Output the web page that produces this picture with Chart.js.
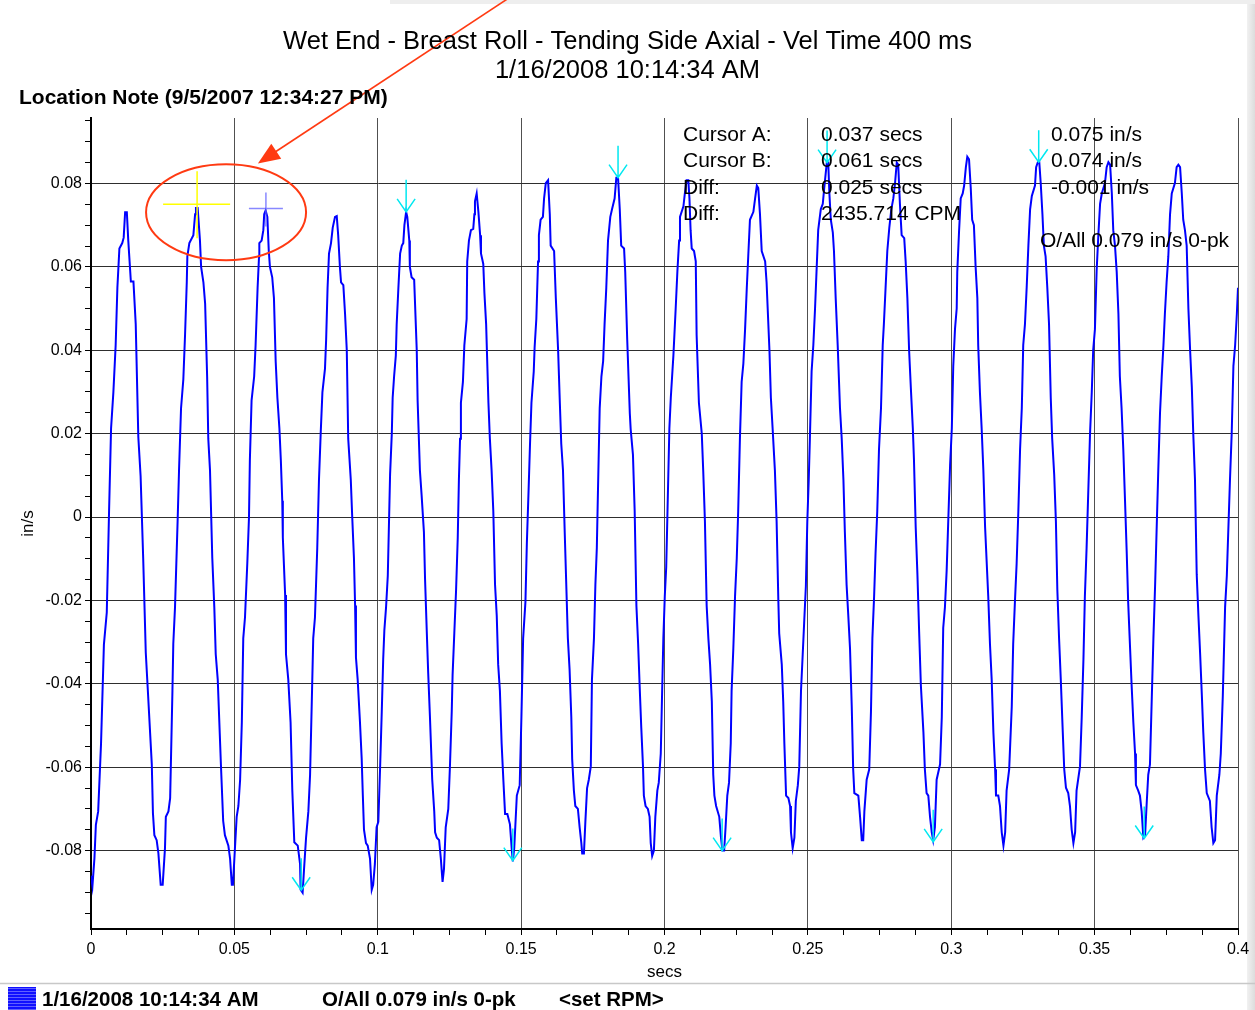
<!DOCTYPE html>
<html>
<head>
<meta charset="utf-8">
<title>Wet End - Breast Roll - Tending Side Axial - Vel Time 400 ms</title>
<script src="https://cdn.jsdelivr.net/npm/chart.js@4.4.1/dist/chart.umd.min.js"></script>
<style>
  html, body { margin: 0; padding: 0; background: #fff; }
  canvas { display: block; }
</style>
</head>
<body>
<canvas id="waveChart" width="1255" height="1010"></canvas>
<script>
// time waveform, [secs, in/s]
const wave = [
  [0,-0.0860],[0.0005,-0.0885],[0.0012,-0.0818],[0.0017,-0.0738],[0.0025,-0.0706],[0.0035,-0.0543],[0.0045,-0.0306],[0.0055,-0.0229],[0.0063,0.0014],[0.0070,0.0213],[0.0078,0.0299],[0.0086,0.0412],[0.0092,0.0550],[0.0099,0.0644],[0.0109,0.0657],[0.0114,0.0670],[0.0119,0.0731],[0.0125,0.0731],[0.0130,0.0663],[0.0139,0.0565],[0.0148,0.0565],[0.0156,0.0462],[0.0165,0.0192],[0.0173,0.0098],[0.0182,-0.0099],[0.0191,-0.0325],[0.0198,-0.0413],[0.0212,-0.0593],[0.0216,-0.0710],[0.0221,-0.0763],[0.0229,-0.0775],[0.0235,-0.0806],[0.0243,-0.0882],[0.0250,-0.0882],
  [0.0258,-0.0794],[0.0261,-0.0719],[0.0270,-0.0706],[0.0276,-0.0674],[0.0284,-0.0417],[0.0287,-0.0304],[0.0293,-0.0216],[0.0302,-0.0011],[0.0307,0.0112],[0.0314,0.0261],[0.0322,0.0330],[0.0328,0.0437],[0.0334,0.0563],[0.0336,0.0625],[0.0343,0.0657],[0.0357,0.0676],[0.0363,0.0726],[0.0366,0.0741],[0.0372,0.0741],[0.0380,0.0663],[0.0384,0.0600],[0.0392,0.0563],[0.0398,0.0512],[0.0405,0.0337],[0.0409,0.0188],[0.0415,0.0112],[0.0423,-0.0099],[0.0430,-0.0216],[0.0435,-0.0329],[0.0442,-0.0390],[0.0453,-0.0593],[0.0461,-0.0729],[0.0467,-0.0763],[0.0479,-0.0788],[0.0485,-0.0819],[0.0491,-0.0882],[0.0495,-0.0882],
  [0.0502,-0.0794],[0.0508,-0.0719],[0.0514,-0.0693],[0.0520,-0.0630],[0.0526,-0.0492],[0.0531,-0.0291],[0.0537,-0.0241],[0.0545,-0.0112],[0.0551,0.0000],[0.0554,0.0136],[0.0560,0.0280],[0.0569,0.0337],[0.0574,0.0412],[0.0581,0.0550],[0.0586,0.0625],[0.0587,0.0657],[0.0595,0.0663],[0.0601,0.0688],[0.0604,0.0726],[0.0609,0.0735],[0.0615,0.0720],[0.0620,0.0638],[0.0624,0.0600],[0.0632,0.0575],[0.0638,0.0525],[0.0644,0.0374],[0.0650,0.0286],[0.0657,0.0213],[0.0662,0.0137],[0.0667,0.0039],[0.0669,-0.0049],[0.0677,-0.0187],[0.0680,-0.0329],[0.0688,-0.0390],[0.0696,-0.0492],[0.0702,-0.0655],[0.0709,-0.0780],[0.0721,-0.0788],[0.0729,-0.0832],[0.0731,-0.0894],[0.0738,-0.0901],
  [0.0743,-0.0844],[0.0750,-0.0769],[0.0758,-0.0706],[0.0764,-0.0618],[0.0770,-0.0442],[0.0775,-0.0291],[0.0781,-0.0241],[0.0789,-0.0075],[0.0795,0.0089],[0.0801,0.0200],[0.0807,0.0299],[0.0816,0.0356],[0.0820,0.0425],[0.0825,0.0550],[0.0830,0.0632],[0.0837,0.0657],[0.0843,0.0694],[0.0851,0.0720],[0.0857,0.0722],[0.0862,0.0676],[0.0868,0.0600],[0.0872,0.0563],[0.0880,0.0556],[0.0886,0.0487],[0.0892,0.0400],[0.0897,0.0188],[0.0906,0.0089],[0.0911,0.0000],[0.0917,-0.0099],[0.0921,-0.0212],[0.0924,-0.0337],[0.0930,-0.0390],[0.0938,-0.0492],[0.0944,-0.0580],[0.0948,-0.0668],[0.0952,-0.0750],[0.0959,-0.0782],[0.0965,-0.0788],[0.0973,-0.0819],[0.0979,-0.0894],[0.0984,-0.0882],
  [0.0990,-0.0832],[0.0996,-0.0744],[0.1002,-0.0731],[0.1008,-0.0605],[0.1014,-0.0467],[0.1019,-0.0341],[0.1023,-0.0272],[0.1029,-0.0216],[0.1035,-0.0141],[0.1043,0.0102],[0.1049,0.0200],[0.1052,0.0286],[0.1057,0.0337],[0.1063,0.0387],[0.1066,0.0462],[0.1072,0.0550],[0.1078,0.0632],[0.1084,0.0651],[0.1089,0.0657],[0.1093,0.0700],[0.1099,0.0732],[0.1103,0.0720],[0.1110,0.0663],[0.1112,0.0600],[0.1118,0.0575],[0.1127,0.0569],[0.1136,0.0400],[0.1139,0.0280],[0.1147,0.0112],[0.1153,0.0052],[0.1161,-0.0036],[0.1165,-0.0150],[0.1171,-0.0275],[0.1176,-0.0375],[0.1182,-0.0479],[0.1190,-0.0630],[0.1197,-0.0706],[0.1200,-0.0756],[0.1206,-0.0769],[0.1214,-0.0775],[0.1220,-0.0819],[0.1226,-0.0875],
  [0.1231,-0.0844],[0.1237,-0.0744],[0.1246,-0.0700],[0.1252,-0.0593],[0.1258,-0.0467],[0.1261,-0.0379],[0.1267,-0.0278],[0.1273,-0.0178],[0.1279,-0.0049],[0.1283,0.0089],[0.1287,0.0188],[0.1290,0.0274],[0.1297,0.0324],[0.1302,0.0412],[0.1310,0.0475],[0.1312,0.0613],[0.1318,0.0663],[0.1325,0.0688],[0.1333,0.0691],[0.1337,0.0726],[0.1339,0.0757],[0.1345,0.0776],[0.1351,0.0732],[0.1357,0.0676],[0.1360,0.0632],[0.1368,0.0607],[0.1372,0.0537],[0.1378,0.0462],[0.1386,0.0274],[0.1391,0.0188],[0.1397,0.0112],[0.1403,0.0014],[0.1409,-0.0162],[0.1415,-0.0237],[0.1420,-0.0354],[0.1426,-0.0417],[0.1432,-0.0543],[0.1438,-0.0630],[0.1444,-0.0712],[0.1452,-0.0712],[0.1461,-0.0737],[0.1467,-0.0794],[0.1471,-0.0826],
  [0.1476,-0.0794],[0.1485,-0.0668],[0.1495,-0.0643],[0.1501,-0.0480],[0.1507,-0.0291],[0.1515,-0.0204],[0.1520,-0.0062],[0.1526,0.0064],[0.1531,0.0175],[0.1536,0.0274],[0.1544,0.0349],[0.1547,0.0406],[0.1553,0.0475],[0.1559,0.0613],[0.1562,0.0676],[0.1568,0.0713],[0.1576,0.0720],[0.1580,0.0764],[0.1586,0.0801],[0.1594,0.0808],[0.1600,0.0726],[0.1603,0.0651],[0.1615,0.0638],[0.1621,0.0525],[0.1629,0.0400],[0.1635,0.0274],[0.1640,0.0175],[0.1646,0.0112],[0.1652,-0.0036],[0.1658,-0.0175],[0.1663,-0.0291],[0.1669,-0.0366],[0.1675,-0.0480],[0.1678,-0.0580],[0.1684,-0.0656],[0.1689,-0.0693],[0.1698,-0.0700],[0.1704,-0.0744],[0.1710,-0.0782],[0.1713,-0.0807],[0.1719,-0.0807],
  [0.1724,-0.0731],[0.1730,-0.0650],[0.1736,-0.0630],[0.1743,-0.0598],[0.1747,-0.0390],[0.1754,-0.0291],[0.1759,-0.0162],[0.1764,-0.0074],[0.1768,0.0064],[0.1774,0.0261],[0.1780,0.0337],[0.1786,0.0374],[0.1791,0.0462],[0.1797,0.0550],[0.1803,0.0663],[0.1811,0.0720],[0.1817,0.0738],[0.1826,0.0764],[0.1832,0.0814],[0.1838,0.0814],[0.1844,0.0738],[0.1849,0.0651],[0.1859,0.0644],[0.1863,0.0588],[0.1870,0.0425],[0.1879,0.0249],[0.1882,0.0211],[0.1890,0.0149],[0.1896,0.0014],[0.1902,-0.0212],[0.1908,-0.0304],[0.1914,-0.0417],[0.1919,-0.0505],[0.1925,-0.0598],[0.1928,-0.0668],[0.1934,-0.0693],[0.1942,-0.0700],[0.1948,-0.0719],[0.1952,-0.0782],[0.1957,-0.0813],[0.1963,-0.0800],
  [0.1968,-0.0719],[0.1975,-0.0656],[0.1980,-0.0637],[0.1987,-0.0567],[0.1991,-0.0442],[0.1996,-0.0291],[0.2001,-0.0190],[0.2006,-0.0120],[0.2010,0.0000],[0.2017,0.0213],[0.2022,0.0286],[0.2031,0.0387],[0.2039,0.0500],[0.2045,0.0590],[0.2051,0.0663],[0.2054,0.0720],[0.2066,0.0745],[0.2071,0.0776],[0.2077,0.0808],[0.2083,0.0808],[0.2087,0.0764],[0.2091,0.0688],[0.2095,0.0644],[0.2103,0.0638],[0.2109,0.0613],[0.2112,0.0437],[0.2120,0.0274],[0.2130,0.0200],[0.2135,0.0112],[0.2141,-0.0011],[0.2147,-0.0212],[0.2153,-0.0291],[0.2159,-0.0354],[0.2165,-0.0442],[0.2170,-0.0618],[0.2174,-0.0668],[0.2180,-0.0693],[0.2191,-0.0719],[0.2197,-0.0769],[0.2202,-0.0800],[0.2208,-0.0800],
  [0.2213,-0.0744],[0.2219,-0.0668],[0.2225,-0.0637],[0.2231,-0.0543],[0.2234,-0.0417],[0.2240,-0.0316],[0.2246,-0.0190],[0.2252,-0.0099],[0.2257,0.0014],[0.2263,0.0188],[0.2269,0.0324],[0.2275,0.0368],[0.2281,0.0450],[0.2287,0.0550],[0.2292,0.0625],[0.2298,0.0713],[0.2310,0.0732],[0.2316,0.0764],[0.2322,0.0795],[0.2327,0.0789],[0.2333,0.0726],[0.2339,0.0638],[0.2351,0.0613],[0.2356,0.0563],[0.2366,0.0400],[0.2371,0.0286],[0.2377,0.0213],[0.2385,0.0112],[0.2391,-0.0011],[0.2397,-0.0200],[0.2400,-0.0279],[0.2409,-0.0354],[0.2414,-0.0442],[0.2418,-0.0543],[0.2424,-0.0668],[0.2432,-0.0674],[0.2438,-0.0693],[0.2441,-0.0756],[0.2447,-0.0794],[0.2453,-0.0769],
  [0.2458,-0.0681],[0.2465,-0.0643],[0.2470,-0.0598],[0.2476,-0.0417],[0.2482,-0.0329],[0.2487,-0.0254],[0.2493,-0.0166],[0.2498,-0.0011],[0.2503,0.0089],[0.2507,0.0188],[0.2513,0.0349],[0.2519,0.0412],[0.2525,0.0500],[0.2531,0.0603],[0.2536,0.0688],[0.2545,0.0738],[0.2552,0.0751],[0.2557,0.0789],[0.2566,0.0850],[0.2571,0.0850],[0.2575,0.0776],[0.2580,0.0713],[0.2587,0.0682],[0.2591,0.0638],[0.2597,0.0525],[0.2604,0.0412],[0.2612,0.0261],[0.2618,0.0188],[0.2624,0.0089],[0.2629,-0.0036],[0.2635,-0.0162],[0.2641,-0.0237],[0.2647,-0.0316],[0.2653,-0.0455],[0.2658,-0.0605],[0.2662,-0.0662],[0.2676,-0.0668],[0.2682,-0.0719],[0.2688,-0.0775],[0.2693,-0.0775],
  [0.2697,-0.0706],[0.2705,-0.0630],[0.2714,-0.0605],[0.2720,-0.0467],[0.2725,-0.0291],[0.2731,-0.0190],[0.2736,-0.0087],[0.2742,0.0014],[0.2748,0.0162],[0.2755,0.0261],[0.2761,0.0412],[0.2765,0.0462],[0.2771,0.0550],[0.2777,0.0638],[0.2784,0.0694],[0.2791,0.0738],[0.2798,0.0764],[0.2804,0.0801],[0.2810,0.0850],[0.2815,0.0845],[0.2821,0.0751],[0.2827,0.0676],[0.2836,0.0669],[0.2841,0.0613],[0.2847,0.0525],[0.2853,0.0400],[0.2859,0.0311],[0.2866,0.0213],[0.2870,0.0137],[0.2876,-0.0024],[0.2882,-0.0137],[0.2888,-0.0275],[0.2894,-0.0403],[0.2903,-0.0517],[0.2908,-0.0605],[0.2914,-0.0662],[0.2920,-0.0668],[0.2926,-0.0719],[0.2932,-0.0756],[0.2937,-0.0775],
  [0.2943,-0.0744],[0.2949,-0.0630],[0.2961,-0.0593],[0.2967,-0.0480],[0.2972,-0.0266],[0.2978,-0.0216],[0.2984,-0.0128],[0.2990,0.0000],[0.2996,0.0125],[0.3002,0.0213],[0.3007,0.0362],[0.3013,0.0450],[0.3019,0.0500],[0.3021,0.0588],[0.3027,0.0682],[0.3033,0.0764],[0.3040,0.0776],[0.3045,0.0795],[0.3051,0.0839],[0.3056,0.0864],[0.3062,0.0858],[0.3068,0.0789],[0.3073,0.0713],[0.3079,0.0700],[0.3085,0.0600],[0.3091,0.0525],[0.3094,0.0412],[0.3100,0.0299],[0.3106,0.0213],[0.3112,0.0112],[0.3118,-0.0024],[0.3129,-0.0190],[0.3135,-0.0304],[0.3141,-0.0390],[0.3147,-0.0517],[0.3153,-0.0605],[0.3156,-0.0668],[0.3164,-0.0668],[0.3170,-0.0693],[0.3176,-0.0756],[0.3182,-0.0788],
  [0.3188,-0.0756],[0.3193,-0.0656],[0.3202,-0.0605],[0.3211,-0.0455],[0.3216,-0.0304],[0.3222,-0.0204],[0.3228,-0.0112],[0.3234,0.0014],[0.3240,0.0162],[0.3246,0.0261],[0.3251,0.0412],[0.3257,0.0462],[0.3263,0.0550],[0.3269,0.0651],[0.3275,0.0738],[0.3281,0.0770],[0.3292,0.0795],[0.3296,0.0839],[0.3302,0.0851],[0.3307,0.0851],[0.3312,0.0801],[0.3318,0.0726],[0.3323,0.0651],[0.3329,0.0625],[0.3335,0.0550],[0.3341,0.0462],[0.3347,0.0286],[0.3352,0.0188],[0.3359,0.0102],[0.3365,-0.0011],[0.3370,-0.0175],[0.3376,-0.0291],[0.3382,-0.0390],[0.3389,-0.0517],[0.3394,-0.0605],[0.3400,-0.0649],[0.3408,-0.0662],[0.3414,-0.0693],[0.3420,-0.0750],[0.3426,-0.0782],
  [0.3432,-0.0756],[0.3437,-0.0656],[0.3449,-0.0598],[0.3455,-0.0480],[0.3461,-0.0341],[0.3466,-0.0190],[0.3472,-0.0074],[0.3478,0.0064],[0.3484,0.0200],[0.3490,0.0299],[0.3495,0.0400],[0.3501,0.0450],[0.3507,0.0590],[0.3513,0.0676],[0.3519,0.0751],[0.3525,0.0776],[0.3536,0.0801],[0.3542,0.0839],[0.3548,0.0851],[0.3554,0.0845],[0.3560,0.0776],[0.3565,0.0688],[0.3571,0.0651],[0.3577,0.0588],[0.3583,0.0487],[0.3588,0.0337],[0.3594,0.0261],[0.3600,0.0162],[0.3606,0.0039],[0.3612,-0.0087],[0.3617,-0.0204],[0.3623,-0.0304],[0.3629,-0.0403],[0.3635,-0.0492],[0.3641,-0.0567],[0.3644,-0.0643],[0.3652,-0.0656],[0.3658,-0.0668],[0.3664,-0.0706],[0.3670,-0.0769],[0.3676,-0.0763],
  [0.3682,-0.0681],[0.3687,-0.0618],[0.3693,-0.0593],[0.3699,-0.0442],[0.3705,-0.0291],[0.3711,-0.0162],[0.3716,-0.0036],[0.3722,0.0112],[0.3728,0.0249],[0.3734,0.0337],[0.3740,0.0412],[0.3745,0.0487],[0.3751,0.0563],[0.3757,0.0625],[0.3763,0.0726],[0.3769,0.0776],[0.3780,0.0801],[0.3786,0.0839],[0.3792,0.0845],[0.3798,0.0839],[0.3804,0.0776],[0.3809,0.0713],[0.3815,0.0688],[0.3821,0.0651],[0.3827,0.0500],[0.3833,0.0400],[0.3839,0.0311],[0.3844,0.0200],[0.3850,0.0089],[0.3856,-0.0137],[0.3862,-0.0237],[0.3868,-0.0329],[0.3874,-0.0429],[0.3879,-0.0517],[0.3885,-0.0605],[0.3891,-0.0662],[0.3902,-0.0681],[0.3908,-0.0744],[0.3914,-0.0782],[0.3920,-0.0775],
  [0.3926,-0.0668],[0.3935,-0.0618],[0.3940,-0.0567],[0.3947,-0.0429],[0.3955,-0.0216],[0.3961,-0.0141],[0.3966,-0.0036],[0.3972,0.0089],[0.3978,0.0200],[0.3984,0.0362],[0.3990,0.0412],[0.3996,0.0487],[0.4000,0.0550]
];

// axis ticks
const xTickValues = [0, 0.05, 0.1, 0.15, 0.2, 0.25, 0.3, 0.35, 0.4];
const xTickLabels = ['0', '0.05', '0.1', '0.15', '0.2', '0.25', '0.3', '0.35', '0.4'];
const yTickValues = [-0.08, -0.06, -0.04, -0.02, 0, 0.02, 0.04, 0.06, 0.08];
const yTickLabels = ['-0.08', '-0.06', '-0.04', '-0.02', '0', '0.02', '0.04', '0.06', '0.08'];
const xMinorStep = 0.0125;
const yMinorStep = 0.005;

// peak / trough markers (cyan arrows)
const markSecs = [0.1099, 0.1838, 0.2567, 0.3305, 0.0733, 0.1471, 0.2201, 0.2937, 0.3673];
const markVel  = [0.0732, 0.0814, 0.0850, 0.0851, -0.0895, -0.0824, -0.0800, -0.0779, -0.0771];

// cursors A and B
const cursorSecs = [0.037, 0.061];
const cursorVel  = [0.075, 0.074];

// red call-out: ellipse round the cursors, arrow pointing at it
const calloutCenter = [0.0471, 0.0731];
const calloutArrow = [[0.1451, 0.1242], [0.0582, 0.0848]];

// texts
const titleLines = ['Wet End - Breast Roll - Tending Side Axial - Vel Time 400 ms', '1/16/2008 10:14:34 AM'];
const noteText = 'Location Note (9/5/2007 12:34:27 PM)';
const cursorLabels = ['Cursor A:', 'Cursor B:', 'Diff:', 'Diff:'];
const cursorTimes = ['0.037 secs', '0.061 secs', '0.025 secs', '2435.714 CPM'];
const cursorAmps = ['0.075 in/s', '0.074 in/s', '-0.001 in/s'];
const overallText = 'O/All 0.079 in/s 0-pk';
const legendTexts = ['1/16/2008 10:14:34 AM', 'O/All 0.079 in/s 0-pk', '<set RPM>'];

const FAMILY = '"Liberation Sans", Arial, Helvetica, sans-serif';
const GRID_H = '#2e2e2e';
const GRID_V = '#505050';

function stepTicks(min, max, step) {
    const out = [];
    const n0 = Math.ceil(min / step - 1e-9), n1 = Math.floor(max / step + 1e-9);
    for (let i = n0; i <= n1; i++) out.push(+(i * step).toFixed(6));
    return out;
}
function majorIndex(list, v) {
    return list.findIndex(m => Math.abs(m - v) < 1e-7);
}

const overlay = {
    id: 'overlay',
    beforeDraw(chart) {
        const ctx = chart.ctx;
        ctx.save();
        ctx.fillStyle = '#fff';
        ctx.fillRect(0, 0, chart.width, chart.height);
        // window edge shading
        const g = ctx.createLinearGradient(chart.width - 9, 0, chart.width, 0);
        g.addColorStop(0, '#f4f4f4');
        g.addColorStop(1, '#dcdcdc');
        ctx.fillStyle = g;
        ctx.fillRect(chart.width - 8, 0, 8, chart.height);
        ctx.fillStyle = '#eeeeee';
        ctx.fillRect(390, 0, chart.width - 390, 4);
        ctx.restore();
    },
    afterDatasetsDraw(chart) {
        const {ctx, scales: {x, y}} = chart;
        ctx.save();

        // cursor crosses
        const cx = cursorSecs.map(v => x.getPixelForValue(v));
        const cy = cursorVel.map(v => y.getPixelForValue(v));
        ctx.lineWidth = 1.5;
        ctx.strokeStyle = '#ffff00';
        ctx.beginPath();
        ctx.moveTo(cx[0] - 34, cy[0]); ctx.lineTo(cx[0] + 33, cy[0]);
        ctx.moveTo(cx[0], cy[0] - 33); ctx.lineTo(cx[0], cy[0] + 34);
        ctx.stroke();
        ctx.strokeStyle = 'rgba(96,96,255,0.75)';
        ctx.beginPath();
        ctx.moveTo(cx[1] - 17, cy[1]); ctx.lineTo(cx[1] + 17, cy[1]);
        ctx.moveTo(cx[1], cy[1] - 16); ctx.lineTo(cx[1], cy[1] + 18);
        ctx.stroke();

        // cyan peak arrows
        ctx.strokeStyle = '#00e8f0';
        ctx.lineWidth = 1.5;
        markSecs.forEach((t, i) => {
            const px = x.getPixelForValue(t), py = y.getPixelForValue(markVel[i]);
            ctx.beginPath();
            ctx.moveTo(px, py - 32); ctx.lineTo(px, py);
            ctx.moveTo(px - 9, py - 13); ctx.lineTo(px, py); ctx.lineTo(px + 9, py - 13);
            ctx.stroke();
        });

        // red ellipse and arrow
        ctx.strokeStyle = '#ff3a12';
        ctx.fillStyle = '#ff3a12';
        ctx.lineWidth = 2;
        ctx.beginPath();
        ctx.ellipse(x.getPixelForValue(calloutCenter[0]), y.getPixelForValue(calloutCenter[1]), 80, 48, 0, 0, Math.PI * 2);
        ctx.stroke();
        const ax0 = x.getPixelForValue(calloutArrow[0][0]), ay0 = y.getPixelForValue(calloutArrow[0][1]);
        const ax1 = x.getPixelForValue(calloutArrow[1][0]), ay1 = y.getPixelForValue(calloutArrow[1][1]);
        const ang = Math.atan2(ay1 - ay0, ax1 - ax0);
        ctx.lineWidth = 1.6;
        ctx.beginPath();
        ctx.moveTo(ax0, ay0);
        ctx.lineTo(ax1 - 18 * Math.cos(ang), ay1 - 18 * Math.sin(ang));
        ctx.stroke();
        ctx.beginPath();
        ctx.moveTo(ax1, ay1);
        ctx.lineTo(ax1 - 22 * Math.cos(ang) + 9 * Math.sin(ang), ay1 - 22 * Math.sin(ang) - 9 * Math.cos(ang));
        ctx.lineTo(ax1 - 22 * Math.cos(ang) - 9 * Math.sin(ang), ay1 - 22 * Math.sin(ang) + 9 * Math.cos(ang));
        ctx.closePath();
        ctx.fill();
        ctx.restore();
    },
    afterDraw(chart) {
        const ctx = chart.ctx;
        ctx.save();
        ctx.fillStyle = '#000';
        ctx.textBaseline = 'middle';

        ctx.font = `25.5px ${FAMILY}`;
        ctx.textAlign = 'center';
        ctx.fillText(titleLines[0], 627.5, 41.5);
        ctx.fillText(titleLines[1], 627.5, 70.5);

        ctx.textAlign = 'left';
        ctx.font = `bold 21px ${FAMILY}`;
        ctx.fillText(noteText, 19, 98);

        ctx.font = `21px ${FAMILY}`;
        const rows = [135, 161.5, 188, 214];
        cursorLabels.forEach((s, i) => ctx.fillText(s, 683, rows[i]));
        cursorTimes.forEach((s, i) => ctx.fillText(s, 821, rows[i]));
        cursorAmps.forEach((s, i) => ctx.fillText(s, 1051, rows[i]));
        ctx.fillText(overallText, 1040, 241);

        // footer
        ctx.strokeStyle = '#c8c8c8';
        ctx.lineWidth = 1.5;
        ctx.beginPath();
        ctx.moveTo(0, 983.5); ctx.lineTo(chart.width, 983.5);
        ctx.stroke();
        ctx.fillStyle = '#1010ff';
        ctx.fillRect(8, 987, 28, 23);
        ctx.fillStyle = '#6060ff';
        for (let yy = 988; yy < 1010; yy += 3) ctx.fillRect(8, yy, 28, 1);
        ctx.fillStyle = '#000';
        ctx.font = `bold 20.5px ${FAMILY}`;
        ctx.fillText(legendTexts[0], 42, 1000);
        ctx.fillText(legendTexts[1], 322, 1000);
        ctx.fillText(legendTexts[2], 559, 1000);
        ctx.restore();
    }
};

const ctx = document.getElementById('waveChart').getContext('2d');
const chart = new Chart(ctx, {
    type: 'line',
    data: {
        datasets: [{
            label: '1/16/2008 10:14:34 AM',
            data: wave.map(p => ({x: p[0], y: p[1]})),
            borderColor: '#0000ff',
            borderWidth: 2,
            pointRadius: 0,
            tension: 0,
            fill: false
        }]
    },
    options: {
        responsive: false,
        animation: false,
        devicePixelRatio: 1,
        layout: { padding: { left: 0, top: 118, right: 17, bottom: 0 } },
        plugins: {
            legend: { display: false },
            tooltip: { enabled: false },
            title: { display: false }
        },
        scales: {
            x: {
                type: 'linear',
                min: 0,
                max: 0.4,
                afterBuildTicks: s => { s.ticks = stepTicks(0, 0.4, xMinorStep).map(v => ({value: v})); },
                afterFit: s => { s.height = 81; },
                ticks: {
                    autoSkip: false,
                    maxRotation: 0,
                    padding: 5,
                    color: '#000',
                    font: { family: FAMILY, size: 16 },
                    callback: v => { const i = majorIndex(xTickValues, v); return i < 0 ? '' : xTickLabels[i]; }
                },
                grid: {
                    color: c => majorIndex(xTickValues, c.tick.value) < 0 ? 'rgba(0,0,0,0)' : GRID_V,
                    tickColor: '#000',
                    tickLength: 6,
                    lineWidth: 1
                },
                border: { display: true, color: '#000', width: 2 },
                title: { display: true, text: 'secs', color: '#000', font: { family: FAMILY, size: 17 }, padding: { top: 0, bottom: 27 } }
            },
            y: {
                type: 'linear',
                min: -0.0988,
                max: 0.0957,
                afterBuildTicks: s => { s.ticks = stepTicks(-0.0988, 0.0957, yMinorStep).map(v => ({value: v})); },
                afterFit: s => { s.width = 91; },
                ticks: {
                    autoSkip: false,
                    padding: 3,
                    color: '#000',
                    font: { family: FAMILY, size: 16 },
                    callback: v => { const i = majorIndex(yTickValues, v); return i < 0 ? '' : yTickLabels[i]; }
                },
                grid: {
                    color: c => majorIndex(yTickValues, c.tick.value) < 0 ? 'rgba(0,0,0,0)' : GRID_H,
                    tickColor: '#000',
                    tickLength: 6,
                    lineWidth: 1
                },
                border: { display: true, color: '#000', width: 2 },
                title: { display: true, text: 'in/s', color: '#000', font: { family: FAMILY, size: 17 }, padding: { top: 18, bottom: 0 } }
            }
        }
    },
    plugins: [overlay]
});
</script>
</body>
</html>
